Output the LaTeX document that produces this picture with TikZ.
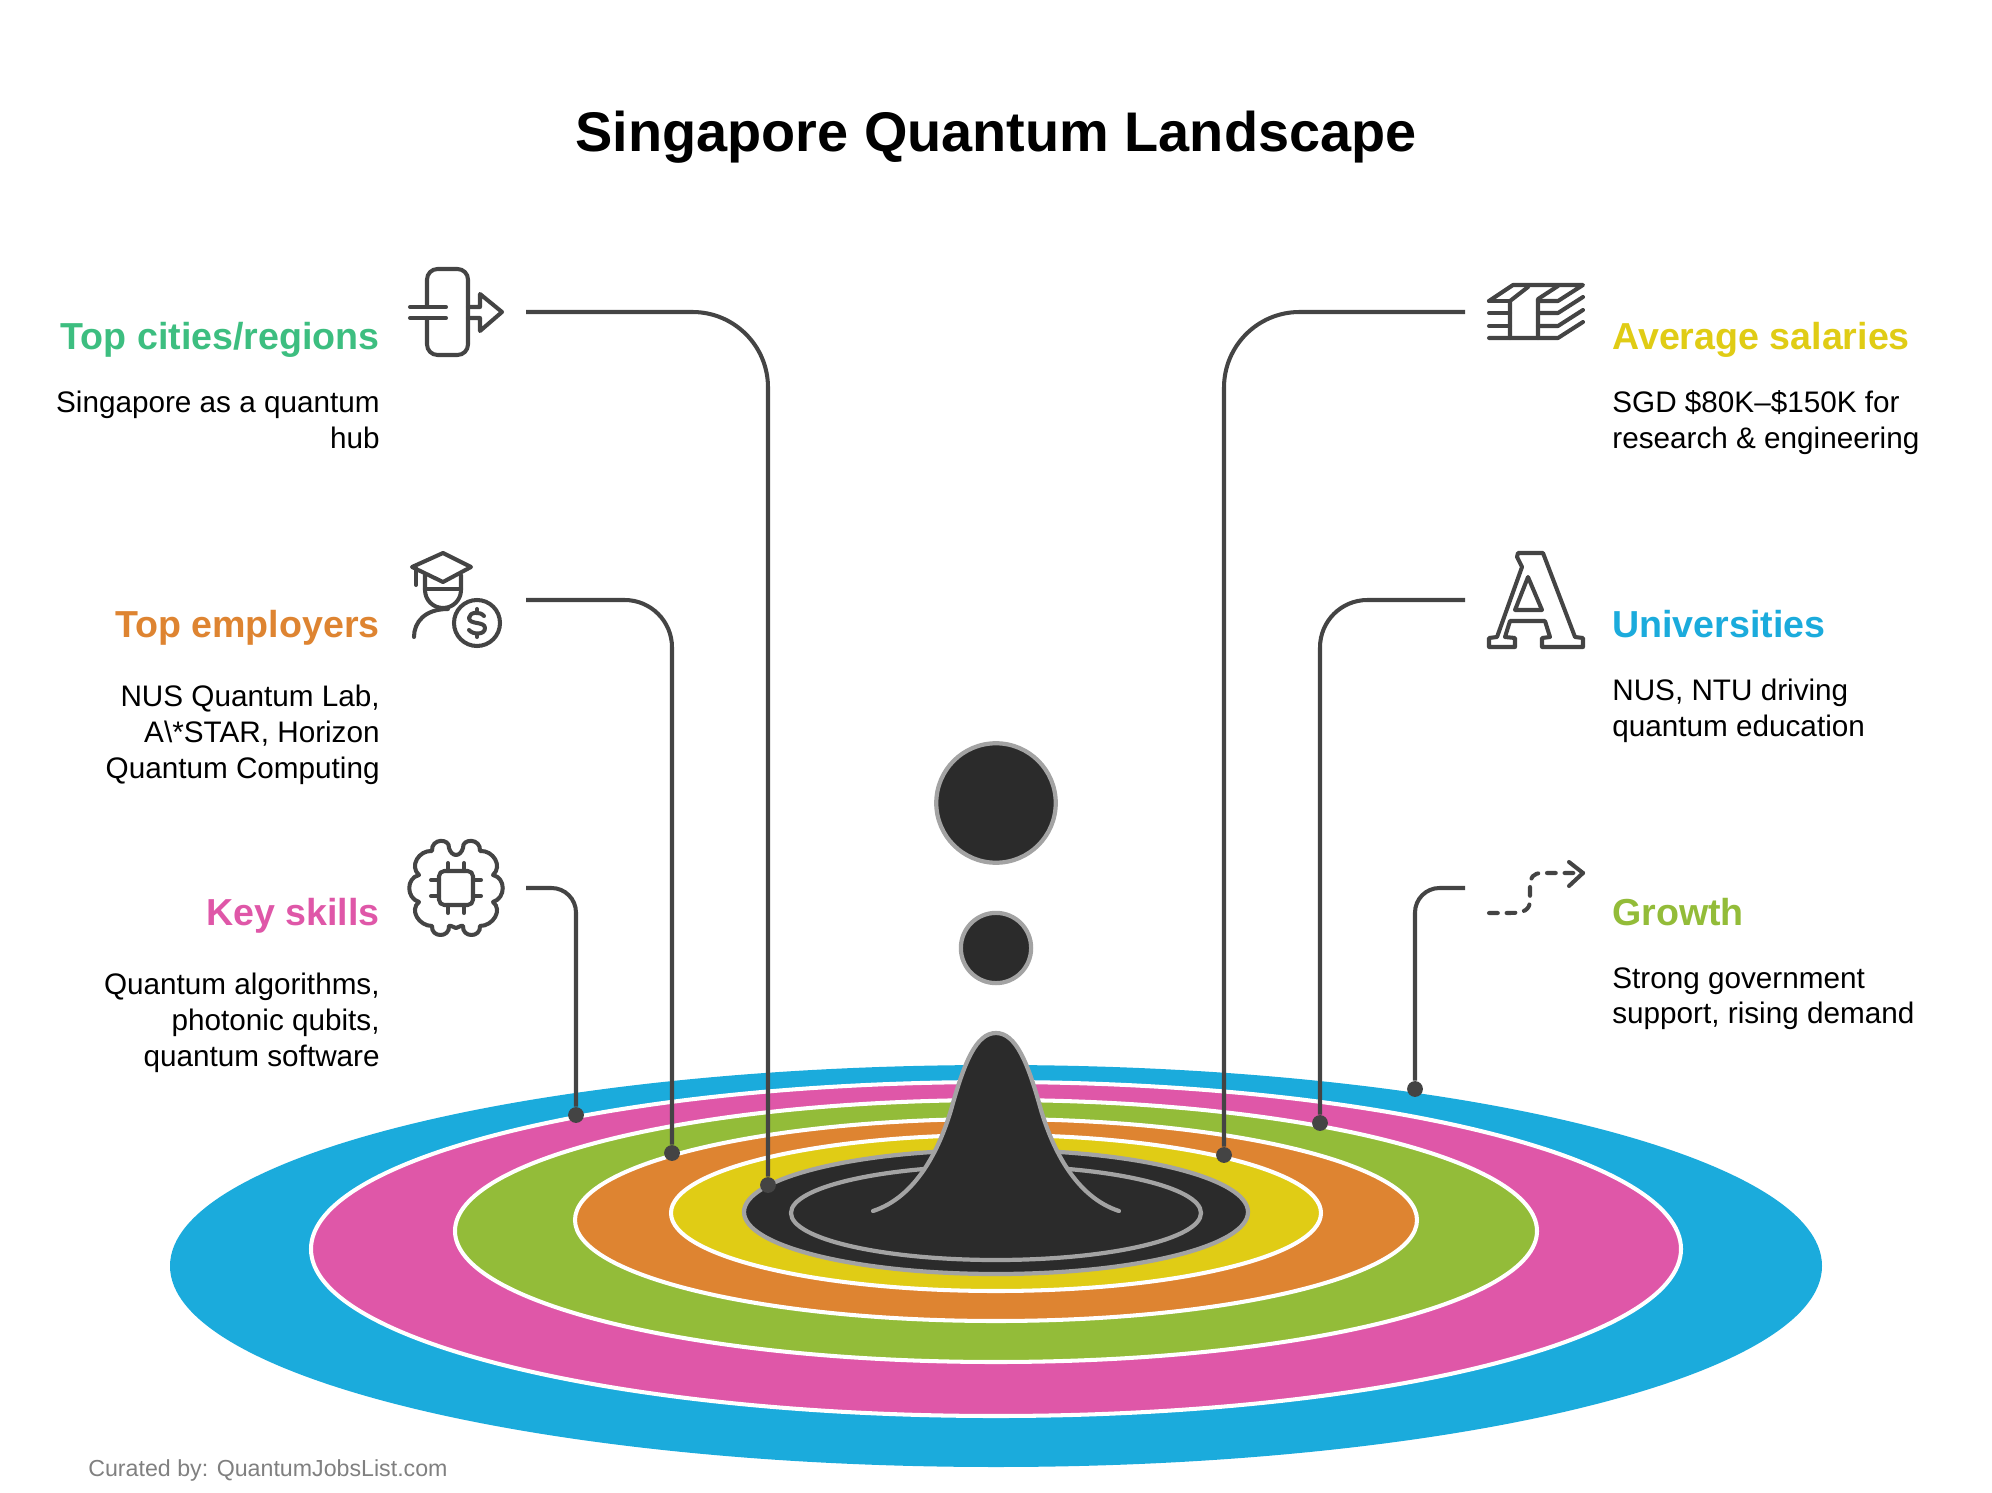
\documentclass[tikz,border=0pt]{standalone}
\usepackage{fontspec}
\setmainfont{Liberation Sans}
\usepackage{color}
\definecolor{linecol}{HTML}{444444}
\definecolor{darkcol}{HTML}{2B2B2B}
\definecolor{edgecol}{HTML}{A3A3A3}
\definecolor{bluecol}{HTML}{1BABDC}
\definecolor{pinkcol}{HTML}{DF57A8}
\definecolor{greencol}{HTML}{93BC39}
\definecolor{orangecol}{HTML}{DE8431}
\definecolor{yellowcol}{HTML}{E0CC15}
\definecolor{citycol}{HTML}{3DBE80}
\tikzstyle{ring} = [draw=white, line width=2.3pt]
\tikzstyle{drop} = [draw=edgecol, fill=darkcol, line width=2.4pt]
\tikzstyle{link} = [draw=linecol, line width=2.3pt]
\tikzstyle{icon} = [draw=linecol, line width=2.3pt, line cap=round, line join=round]
\tikzstyle{dot} = [circle, fill=linecol, inner sep=0pt, minimum size=9pt]
\tikzstyle{headl} = [anchor=base east, inner sep=0pt, font=\bfseries\fontsize{21.4}{25}\selectfont]
\tikzstyle{headr} = [anchor=base west, inner sep=0pt, font=\bfseries\fontsize{21.4}{25}\selectfont]
\tikzstyle{bodyl} = [anchor=north east, inner sep=0pt, align=right, font=\fontsize{16.9}{20.4}\selectfont]
\tikzstyle{bodyr} = [anchor=north west, inner sep=0pt, align=left, font=\fontsize{16.9}{20.4}\selectfont]

\begin{document}
\begin{tikzpicture}[x=0.02cm, y=-0.02cm]
\useasboundingbox (0,0) rectangle (1992,1493);

\node (title) [font=\bfseries\fontsize{31.8}{40}\selectfont, inner sep=0pt] at (996,137) {Singapore Quantum Landscape};

%Rings
\fill [bluecol] (996,1266) ellipse (826 and 201);
\draw [ring, fill=pinkcol] (996,1249) ellipse (685 and 167);
\draw [ring, fill=greencol] (996,1231) ellipse (541 and 131);
\draw [ring, fill=orangecol] (996,1220) ellipse (421 and 101);
\draw [ring, fill=yellowcol] (996,1213) ellipse (325 and 78);
\draw [drop] (996,1212) ellipse (252 and 62);
\draw [draw=edgecol, line width=2.4pt] (996,1213) ellipse (205 and 47);

%Drop
\draw [drop, line cap=round] (873,1211) .. controls (916,1197) and (939,1150) .. (951,1110) .. controls (964,1063) and (976,1033) .. (996,1033) .. controls (1016,1033) and (1028,1063) .. (1041,1110) .. controls (1053,1150) and (1076,1197) .. (1119,1211);
\node (big) [drop, circle, minimum size=68pt, inner sep=0pt] at (996,803) {};
\node (small) [drop, circle, minimum size=40pt, inner sep=0pt] at (996,948) {};

%Left labels
\node (cities) [headl, citycol] at (380,350) {Top cities/regions};
\node (citiesb) [bodyl] at (380,391) {Singapore as a quantum\\hub};
\node (employers) [headl, orangecol] at (380,637) {Top employers};
\node (employersb) [bodyl] at (380,685) {NUS Quantum Lab,\\A\textbackslash*STAR, Horizon\\Quantum Computing};
\node (skills) [headl, pinkcol] at (380,925) {Key skills};
\node (skillsb) [bodyl] at (380,973) {Quantum algorithms,\\photonic qubits,\\quantum software};

%Right labels
\node (salaries) [headr, yellowcol] at (1612,350) {Average salaries};
\node (salariesb) [bodyr] at (1612,390) {SGD \$80K–\$150K for\\research \& engineering};
\node (unis) [headr, bluecol] at (1612,637) {Universities};
\node (unisb) [bodyr] at (1612,679) {NUS, NTU driving\\quantum education};
\node (growth) [headr, greencol] at (1612,925) {Growth};
\node (growthb) [bodyr] at (1612,967) {Strong government\\support, rising demand};

\node (foot) [anchor=west, inner sep=0pt, text=gray, font=\fontsize{13.2}{16}\selectfont] at (88,1470) {Curated by: QuantumJobsList.com};

%Connectors
\coordinate (s1) at (526,312);
\coordinate (s2) at (526,600);
\coordinate (s3) at (526,888);
\coordinate (s4) at (1465,312);
\coordinate (s5) at (1465,600);
\coordinate (s6) at (1465,888);
\node (d1) [dot] at (768,1185) {};
\node (d2) [dot] at (672,1153) {};
\node (d3) [dot] at (576,1115) {};
\node (d4) [dot] at (1224,1155) {};
\node (d5) [dot] at (1320,1123) {};
\node (d6) [dot] at (1415,1089) {};
\draw [link, rounded corners=43pt] (s1) -| (d1);
\draw [link, rounded corners=27pt] (s2) -| (d2);
\draw [link, rounded corners=14pt] (s3) -| (d3);
\draw [link, rounded corners=43pt] (s4) -| (d4);
\draw [link, rounded corners=27pt] (s5) -| (d5);
\draw [link, rounded corners=14pt] (s6) -| (d6);

%Icon cities
\draw [icon, rounded corners=6pt] (427,307) -- (427,269) -- (468,269) -- (468,355) -- (427,355) -- (427,318);
\draw [icon] (410,307) -- (446,307);
\draw [icon] (410,318) -- (446,318);
\draw [icon] (468,307) -- (480,307) -- (480,294) -- (502,312) -- (480,331) -- (480,318) -- (468,318);

%Icon employers
\draw [icon] (443,553) -- (471,567) -- (443,582) -- (412,567) -- cycle;
\draw [icon] (416,568) -- (416,585);
\draw [icon] (425,575) -- (425,590) arc (180:0:18) -- (461,575);
\draw [icon] (425,589) -- (461,589);
\draw [icon] (414,637) .. controls (414,622) and (425,609) .. (448,609);
\draw [icon] (477,623) circle (23);
\draw [icon] (484,616) .. controls (480,611) and (469,612) .. (469,618) .. controls (469,625) and (485,621) .. (485,628) .. controls (485,635) and (473,635) .. (469,630);
\draw [icon] (477,609) -- (477,612);
\draw [icon] (477,634) -- (477,637);

%Icon skills
\draw [icon, rounded corners=3pt] (439,871) rectangle (473,905);
\foreach \px in {448,464} {
  \draw [icon] (\px,863) -- (\px,871);
  \draw [icon] (\px,905) -- (\px,913);
}
\foreach \py in {880,896} {
  \draw [icon] (431,\py) -- (439,\py);
  \draw [icon] (473,\py) -- (481,\py);
}
\foreach \sx in {1,-1} {
  \draw [icon] (456,855) .. controls ({456+\sx*3},855) and ({456+\sx*6},852) .. ({456+\sx*7},848)
    .. controls ({456+\sx*6},838) and ({456+\sx*25},838) .. ({456+\sx*24},851)
    .. controls ({456+\sx*37},850) and ({456+\sx*47},866) .. ({456+\sx*37},875)
    .. controls ({456+\sx*50},878) and ({456+\sx*50},898) .. ({456+\sx*37},902)
    .. controls ({456+\sx*47},910) and ({456+\sx*37},926) .. ({456+\sx*24},926)
    .. controls ({456+\sx*25},938) and ({456+\sx*6},938) .. ({456+\sx*7},926)
    .. controls ({456+\sx*6},925) and ({456+\sx*3},927) .. (456,928);
}

%Icon salaries
\draw [icon] (1489,301) -- (1513,285) -- (1583,285) -- (1558,301) -- (1538,301);
\draw [icon] (1489,301) -- (1510,301);
\draw [icon] (1489,313) -- (1510,313);
\draw [icon] (1489,326) -- (1510,326);
\draw [icon] (1489,338) -- (1558,338) -- (1583,322);
\draw [icon] (1510,338) -- (1510,301) -- (1528,287);
\draw [icon] (1538,338) -- (1538,299) -- (1558,286);
\draw [icon] (1538,313) -- (1558,313) -- (1583,297);
\draw [icon] (1538,326) -- (1558,326) -- (1583,310);

%Icon universities
\draw [icon] (1518,553) -- (1543,553) -- (1575,637) -- (1583,638) -- (1583,647) -- (1542,647) -- (1542,638) -- (1550,637) -- (1545,621) -- (1510,621) -- (1505,637) -- (1515,638) -- (1515,647) -- (1489,647) -- (1489,638) -- (1497,637) -- (1522,567) -- (1517,557) -- cycle;
\draw [icon] (1528,577) -- (1542,610) -- (1515,610) -- cycle;

%Icon growth
\draw [icon, dash pattern=on 5pt off 5pt] (1489,913) -- (1510,913) .. controls (1524,913) and (1530,910) .. (1530,900) -- (1530,885) .. controls (1530,878) and (1533,873) .. (1542,873) -- (1583,873);
\draw [icon] (1569,862) -- (1583,873) -- (1569,886);
\end{tikzpicture}
\end{document}
